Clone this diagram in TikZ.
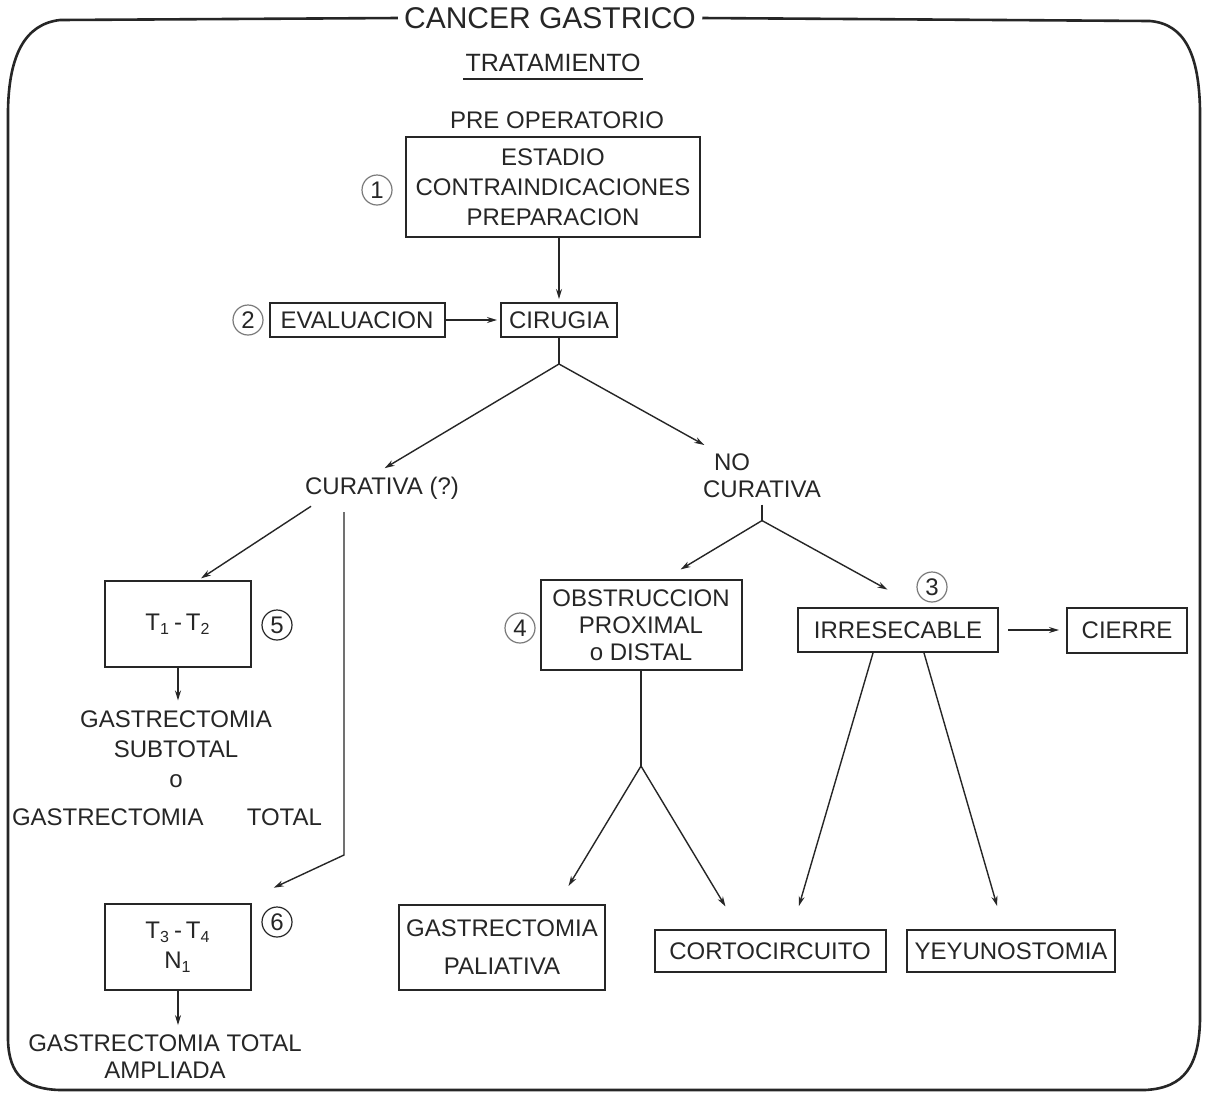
\documentclass[tikz,border=0pt]{standalone}
\usepackage{fontspec}
\setmainfont{Liberation Sans}
\usetikzlibrary{arrows.meta}
\definecolor{ink}{HTML}{262626}
\definecolor{pencil}{HTML}{7A7A7A}

\begin{document}
\begin{tikzpicture}[x=0.5pt,y=-0.5pt,
		every node/.style={font=\fontsize{12}{15}\selectfont,text=ink,align=center},
		box/.style={draw=ink,line width=1pt,inner sep=2pt},
		num/.style={circle,line width=0.6pt,minimum size=15pt,inner sep=0pt},
		arr/.style={draw=ink,line width=0.7pt,-{Stealth[length=5pt,width=3pt]},shorten >=1.5pt},
		link/.style={draw=ink,line width=0.7pt}]
		\useasboundingbox (0,0) rectangle (1210,1094);
		\fill[white] (0,0) rectangle (1210,1094);

		% Heading
		\node[font=\fontsize{15}{18}\selectfont,inner sep=3pt] (title) at (550,18) {CANCER GASTRICO};
		\node[font=\fontsize{12.5}{15}\selectfont,inner sep=1pt] (trat) at (553,63) {TRATAMIENTO};
		\draw[ink,line width=1pt] ([yshift=-2.5pt]trat.south west) -- ([yshift=-2.5pt]trat.south east);
		\node (preop) at (557,120) {PRE OPERATORIO};

		% Frame round the chart
		\draw[ink,line width=1.3pt] (title.east) -- (1150,21)
			.. controls (1185,24) and (1199,55) .. (1200,110) -- (1200,1020)
			.. controls (1199,1065) and (1185,1088) .. (1145,1090) -- (60,1090)
			.. controls (25,1089) and (9,1075) .. (8,1040) -- (8,110)
			.. controls (9,55) and (25,24) .. (60,20) -- (title.west);

		% Boxes
		\node[box,minimum width=147pt,minimum height=50pt] (estadio) at (553,187)
			{ESTADIO\\CONTRAINDICACIONES\\PREPARACION};
		\node[box,minimum width=87.5pt,minimum height=17pt] (eval) at (357,320) {EVALUACION};
		\node[box,minimum width=58pt,minimum height=17pt] (cirugia) at (559,320) {CIRUGIA};
		\node[box,minimum width=73pt,minimum height=43pt] (t12) at (178,624)
			{T\textsubscript{1}\,-\,T\textsubscript{2}};
		\node[box,minimum width=73pt,minimum height=43pt] (t34) at (178,947)
			{T\textsubscript{3}\,-\,T\textsubscript{4}\\N\textsubscript{1}};
		\node[box,minimum width=100.5pt,minimum height=45pt,font=\fontsize{12}{13.5}\selectfont]
			(obstr) at (641,625) {OBSTRUCCION\\PROXIMAL\\o DISTAL};
		\node[box,minimum width=100pt,minimum height=22pt] (irres) at (898,630) {IRRESECABLE};
		\node[box,minimum width=60pt,minimum height=22.5pt] (cierre) at (1127,630) {CIERRE};
		\node[box,minimum width=103pt,minimum height=42.5pt,font=\fontsize{12}{19}\selectfont]
			(paliat) at (502,947) {GASTRECTOMIA\\PALIATIVA};
		\node[box,minimum width=115.5pt,minimum height=21pt] (corto) at (770,951) {CORTOCIRCUITO};
		\node[box,minimum width=104pt,minimum height=21pt] (yeyuno) at (1011,951) {YEYUNOSTOMIA};

		% Plain labels
		\node (cur) at (382,488) {CURATIVA (?)};
		\node (no) at (732,462) {NO};
		\node (nocur) at (762,489) {CURATIVA};
		\node (gsub) at (176,749) {GASTRECTOMIA\\SUBTOTAL\\o};
		\node (gtot) at (167,817) {GASTRECTOMIA\hspace{1.8em}TOTAL};
		\node[font=\fontsize{12}{13.5}\selectfont] (gta) at (165,1057) {GASTRECTOMIA TOTAL\\AMPLIADA};

		% Numbered circles
		\foreach \i/\x/\y/\c in {1/377/190/pencil,2/248/320/pencil,3/932/587/pencil,
				4/520/628/pencil,5/277/625/ink,6/277/922/ink} {
			\node[num,draw=\c] (n\i) at (\x,\y) {\i};
		}

		% Branch points
		\path (cirugia.south) ++(0,26) coordinate (s1);
		\path (nocur.south) ++(0,16) coordinate (s2);
		\path (obstr.south) ++(0,95) coordinate (s3);
		\coordinate (ct) at (344,512);
		\coordinate (cv) at (344,855);

		% Connectors
		\draw[arr] (cirugia.north |- estadio.south) -- (cirugia.north);
		\draw[arr] (eval) -- (cirugia);
		\draw[link] (cirugia.south) -- (s1);
		\draw[arr] (s1) -- (cur.north);
		\draw[arr] (s1) -- (no.north west);
		\draw[arr] ([shift={(13,0)}]cur.south west) -- (t12.65);
		\draw[arr] (ct) -- (cv) -- ([shift={(19,-14)}]t34.north east);
		\draw[arr] (t12.south) -- (t12.south |- gsub.north);
		\draw[arr] (t34.south) -- (t34.south |- gta.north);
		\draw[link] (nocur.south) -- (s2);
		\draw[arr] (s2) -- ([shift={(37,-8)}]obstr.north);
		\draw[arr] (s2) -- ([shift={(-8,-16)}]irres.north);
		\draw[arr,shorten <=4.5pt,shorten >=3.5pt] (irres) -- (cierre);
		\draw[link] (obstr.south) -- (s3);
		\draw[arr] (s3) -- ([shift={(65,-15)}]paliat.north);
		\draw[arr] (s3) -- ([shift={(-43,-20)}]corto.north);
		\draw[arr] ([shift={(-25,0)}]irres.south) -- ([shift={(28,-20)}]corto.north);
		\draw[arr] ([shift={(26,0)}]irres.south) -- ([shift={(-13,-20)}]yeyuno.north);
	\end{tikzpicture}
\end{document}
